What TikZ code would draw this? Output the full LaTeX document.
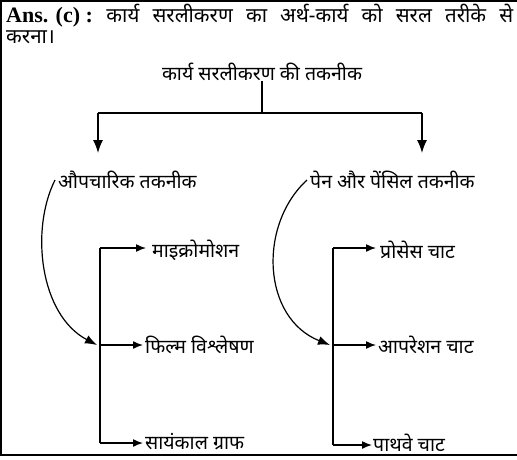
\documentclass[tikz,border=0pt]{standalone}
\usepackage{fontspec}
\setmainfont{Liberation Serif}
\newfontfamily\hindi[Script=Devanagari]{Noto Sans}
\usetikzlibrary{arrows.meta}

\begin{document}
\begin{tikzpicture}[x=1pt, y=-1pt,
    lbl/.style={font=\hindi\fontsize{19.5}{22}\selectfont, inner sep=0pt, anchor=west},
    arrow/.style={-{Latex[length=10pt,width=8pt]}, line width=1.4pt},
    bigarrow/.style={-{Latex[length=13pt,width=10pt]}, line width=1.4pt},
    curve/.style={-{Latex[length=12pt,width=9pt]}, line width=1.2pt},
    line/.style={line width=1.4pt}
]
    \useasboundingbox (0,0) rectangle (517,459);

    % Frame
    \draw[line width=1.6pt] (517,1) -- (1,1) -- (1,455) -- (517,455);

    % Answer text
    \node[anchor=north west, text width=507pt, align=justify, inner sep=0pt,
          font=\fontsize{22}{21}\selectfont] (answer) at (6,4)
        {\hbox{\textbf{Ans. (c) :}} {\hindi\fontsize{20.5}{21}\selectfont कार्य सरलीकरण का अर्थ-कार्य को सरल तरीके से\linebreak करना।}};

    % Top level
    \node[lbl, anchor=center] (title) at (262,72) {कार्य सरलीकरण की तकनीक};
    \coordinate (split) at (262,113);
    \coordinate (left) at (98,113);
    \coordinate (right) at (422,113);
    \coordinate (lefttip) at (98,153);
    \coordinate (righttip) at (422,153);
    \draw[line] (title.south) -- (split);
    \draw[line] (left) -- (right);
    \draw[bigarrow] (left) -- (lefttip);
    \draw[bigarrow] (right) -- (righttip);

    % Second level
    \node[lbl] (formal) at (58,180) {औपचारिक तकनीक};
    \node[lbl] (penpencil) at (310,180) {पेन और पेंसिल तकनीक};

    % Formal techniques
    \coordinate (ftop) at (100,248);
    \coordinate (fjoin) at (100,345);
    \coordinate (fbot) at (100,443);
    \node[lbl] (micro) at (152,250) {माइक्रोमोशन};
    \node[lbl] (film) at (145,345) {फिल्म विश्लेषण};
    \node[lbl] (cycle) at (145,442) {सायंकाल ग्राफ};
    \draw[line] (ftop) -- (fbot);
    \draw[arrow] (ftop) -- ([xshift=-6pt]micro.west |- ftop);
    \draw[arrow] (fjoin) -- ([xshift=-2pt]film.west);
    \draw[arrow] (fbot) -- ([xshift=-2pt]cycle.west |- fbot);
    \draw[curve] ([xshift=-3pt]formal.west) .. controls (30,230) and (40,315) .. ([xshift=-3pt]fjoin);

    % Pen and pencil techniques
    \coordinate (ptop) at (333,248);
    \coordinate (pjoin) at (333,345);
    \coordinate (pbot) at (333,445);
    \node[lbl] (process) at (380,250) {प्रोसेस चाट};
    \node[lbl] (operation) at (378,345) {आपरेशन चाट};
    \node[lbl] (pathway) at (373,443) {पाथवे चाट};
    \draw[line] (ptop) -- (pbot);
    \draw[arrow] (ptop) -- ([xshift=-4pt]process.west |- ptop);
    \draw[arrow] (pjoin) -- ([xshift=-2pt]operation.west);
    \draw[arrow] (pbot) -- ([xshift=-1pt]pathway.west |- pbot);
    \draw[curve] ([xshift=-3pt]penpencil.west) .. controls (258,225) and (262,318) .. ([xshift=-3pt]pjoin);
\end{tikzpicture}
\end{document}
